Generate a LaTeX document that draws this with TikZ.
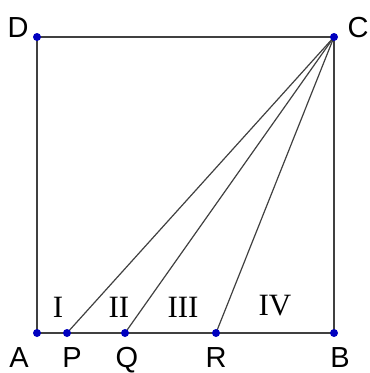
\documentclass[tikz,border=0pt]{standalone}
\usepackage{fontspec}
\setmainfont{Liberation Serif}
\newfontfamily\lsans{Liberation Sans}
\begin{document}
\begin{tikzpicture}[x=1pt,y=-1pt,
  edge/.style={draw=black!75,line width=1.2pt},
  pt/.style={circle,fill=blue!75!black,inner sep=0pt,minimum size=8pt},
  lbl/.style={anchor=base,inner sep=0pt,font=\lsans\fontsize{29}{32}\selectfont},
  reg/.style={anchor=base,inner sep=0pt,font=\fontsize{31}{33}\selectfont}]
\useasboundingbox (0,0) rectangle (370,373);
\coordinate (A) at (37,333);
\coordinate (B) at (334,333);
\coordinate (C) at (334,37);
\coordinate (D) at (37,37);
\coordinate (P) at (67,333);
\coordinate (Q) at (125,333);
\coordinate (R) at (216,333);
\draw[edge] (A) -- (B) -- (C) -- (D) -- cycle;
\draw[edge] (C) -- (P);
\draw[edge] (C) -- (Q);
\draw[edge] (C) -- (R);
\foreach \p in {A,B,C,D,P,Q,R} \node[pt] (d\p) at (\p) {};
\node[lbl] (lD) at (18,37) {D};
\node[lbl] (lC) at (358,37) {C};
\node[lbl] (lA) at (19,367) {A};
\node[lbl] (lP) at (72,367) {P};
\node[lbl] (lQ) at (127,367) {Q};
\node[lbl] (lR) at (216,367) {R};
\node[lbl] (lB) at (340,367) {B};
\node[reg] (r1) at (58,317) {I};
\node[reg] (r2) at (119,317) {II};
\node[reg] (r3) at (183,317) {III};
\node[reg] (r4) at (275,315) {IV};
\end{tikzpicture}
\end{document}
